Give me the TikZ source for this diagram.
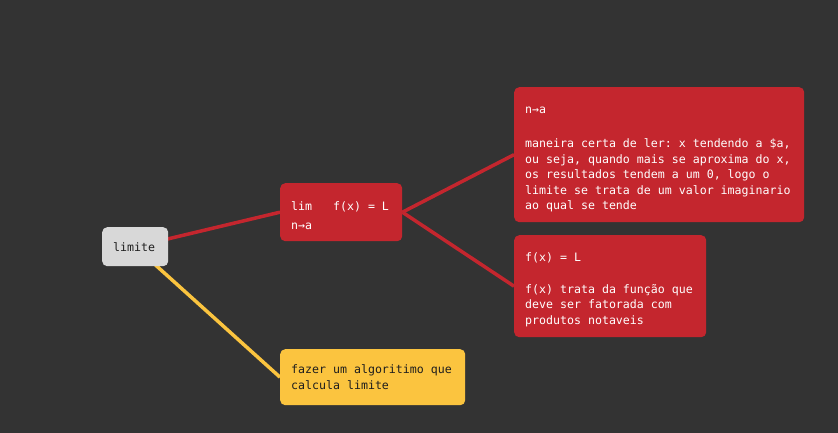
\documentclass[tikz,border=0pt]{standalone}
\usepackage{fontspec}
\setmainfont{DejaVu Sans Mono}[WordSpace={1,0,0}]
\usetikzlibrary{backgrounds}
\definecolor{mapbg}{HTML}{333333}
\definecolor{mapred}{HTML}{C4262E}
\definecolor{mapgrey}{HTML}{D8D8D8}
\definecolor{mapyellow}{HTML}{FBC43F}
\definecolor{mapink}{HTML}{1E1E1E}
\newcommand{\toppad}{\rule{0pt}{16pt}}

\begin{document}
\begin{tikzpicture}[x=1pt,y=-1pt,
	box/.style={anchor=north west,rounded corners=5pt,inner xsep=11pt,inner ysep=0pt,
		align=flush left,font=\fontsize{11.6}{15.5}\selectfont\frenchspacing},
	greybox/.style={box,fill=mapgrey,text=mapink},
	redbox/.style={box,fill=mapred,text=white},
	yellowbox/.style={box,fill=mapyellow,text=mapink},
	redlink/.style={draw=mapred,line width=3.5pt},
	yellowlink/.style={draw=mapyellow,line width=3.5pt}]
	\node[greybox,text width=44pt,minimum height=39pt] (limite) at (102,227) {limite};
	\node[redbox,text width=100pt,minimum height=58pt] (lim) at (280,183) {\toppad lim\ \ \ f(x) = L\\[3pt]n→a};
	\node[redbox,text width=268pt,minimum height=135pt] (leitura) at (514,87) {\toppad n→a\\[19pt]maneira certa de ler: x tendendo a \$a,\\ou seja, quando mais se aproxima do x,\\os resultados tendem a um 0, logo o\\limite se trata de um valor imaginario\\ao qual se tende};
	\node[redbox,text width=170pt,minimum height=102pt] (funcao) at (514,235) {\toppad f(x) = L\\[16pt]f(x) trata da função que\\deve ser fatorada com\\produtos notaveis};
	\node[yellowbox,text width=163pt,minimum height=56pt] (algoritmo) at (280,349) {fazer um algoritimo que\\calcula limite};
	\begin{scope}[on background layer]
	\fill[mapbg] (0,0) rectangle (838,433);
	\path [redlink] (limite.center) -- (lim.west);
	\path [yellowlink] (limite.center) -- (algoritmo.west);
	\path [redlink] (lim.east) -- (leitura.west);
	\path [redlink] (lim.east) -- (funcao.west);
	\end{scope}
\end{tikzpicture}
\end{document}
